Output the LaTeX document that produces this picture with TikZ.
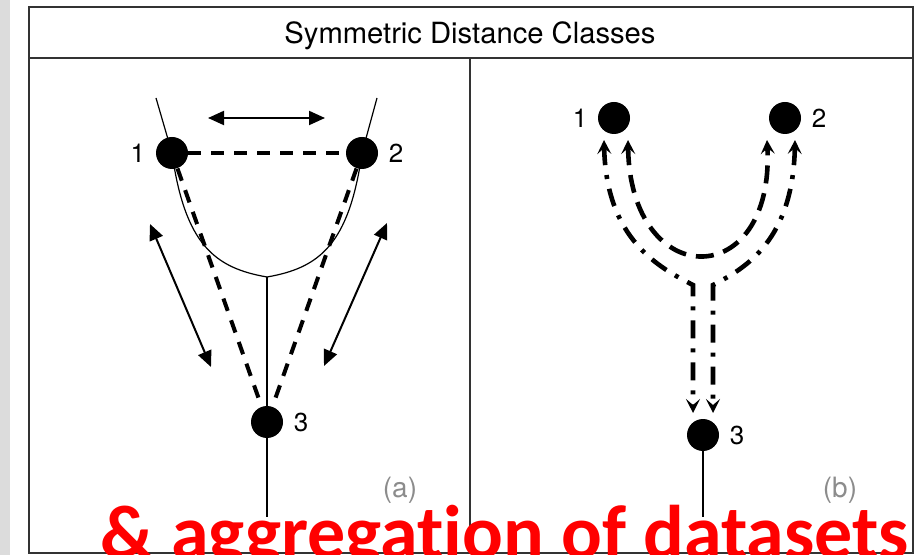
\documentclass[tikz,border=0pt]{standalone}
\usepackage{fontspec}
\setmainfont{TeX Gyre Heros}
\newfontfamily\rotulo[Ligatures=NoCommon]{Carlito}
\usepackage{xcolor}
\usepackage{tikz}
\usetikzlibrary{positioning,arrows.meta,calc}
\definecolor{borde}{HTML}{333333}
\definecolor{gris}{HTML}{8C8C8C}
\definecolor{fondo}{HTML}{DCDCDC}
\definecolor{rojo}{HTML}{FF0000}

\begin{document}
\begin{tikzpicture}[x=0.5pt, y=-0.5pt, font=\fontsize{13}{15}\selectfont, node distance=5pt,
  punto/.style={circle, fill=black, minimum size=16pt, inner sep=0pt},
  num/.style={inner sep=0pt},
  fino/.style={line width=0.6pt},
  flecha/.style={line width=1pt, {Triangle[length=8pt,width=7pt]}-{Triangle[length=8pt,width=7pt]}},
  rayas/.style={line width=2pt, dash pattern=on 6.5pt off 5pt},
  punta/.style={{Stealth[length=7pt,width=7pt,inset=3pt]}-{Stealth[length=7pt,width=7pt,inset=3pt]}},
  rayas2/.style={punta, line width=2.3pt, dash pattern=on 9pt off 5pt},
  rayapunto/.style={punta, line width=2.3pt, dash pattern=on 9pt off 5pt on 2pt off 5pt}]
  \useasboundingbox (0,0) rectangle (915,555);
  \fill[fondo] (0,0) rectangle (10,555);
  % marco
  \draw[borde, line width=1pt] (29,7) rectangle (913,553);
  \draw[borde, line width=1pt] (29,58) -- (913,58);
  \draw[borde, line width=1pt] (470,58) -- (470,553);
  \node (titulo) at (470,36) {\fontsize{14.6}{16}\selectfont Symmetric Distance Classes};

  % (a)
  \node[punto] (a1) at (172,153) {};
  \node[punto] (a2) at (362,153) {};
  \node[punto] (a3) at (267,422) {};
  \node[num, left=of a1]  (n1a) {1};
  \node[num, right=of a2] (n2a) {2};
  \node[num, right=of a3] (n3a) {3};
  \coordinate (aj) at (267,277);
  \coordinate (a1s) at (156,98);
  \coordinate (a2s) at (377,98);
  \coordinate (a3s) at (267,517);
  \draw[fino] (a1s) -- (a1.center) .. controls (185,245) and (215,268) .. (aj);
  \draw[fino] (a2s) -- (a2.center) .. controls (349,245) and (319,268) .. (aj);
  \draw[fino] (aj) -- (a3.center) -- (a3s);
  \draw[rayas] (a1) -- (a2);
  \draw[rayas] (a1) -- (a3);
  \draw[rayas] (a2) -- (a3);
  \coordinate (h1) at (208,118);
  \coordinate (h2) at (325,118);
  \coordinate (i1) at (150,224);
  \coordinate (i2) at (211,367);
  \coordinate (d1) at (387,223);
  \coordinate (d2) at (324,366);
  \draw[flecha] (h1) -- (h2);
  \draw[flecha] (i1) -- (i2);
  \draw[flecha] (d1) -- (d2);
  \node[gris, font=\fontsize{14}{16}\selectfont] (tla) at (400,490) {(a)};

  % (b)
  \node[punto] (b1) at (614,118) {};
  \node[punto] (b2) at (785,118) {};
  \node[punto] (b3) at (703,435) {};
  \node[num, left=of b1]  (n1b) {1};
  \node[num, right=of b2] (n2b) {2};
  \node[num, right=of b3] (n3b) {3};
  \coordinate (b3s) at (703,517);
  \draw[fino] (b3.center) -- (b3s);
  \draw[rayapunto] ($(b1)+(-10,22)$) .. controls (606,240) and (660,268) .. (693,285) -- ($(b3)+(-10,-22)$);
  \draw[rayapunto] ($(b2)+(10,22)$) .. controls (793,240) and (746,268) .. (713,285) -- ($(b3)+(10,-22)$);
  \draw[rayas2] ($(b1)+(14,22)$) .. controls (630,293) and (775,293) .. ($(b2)+(-18,22)$);
  \node[gris, font=\fontsize{14}{16}\selectfont] (tlb) at (840,490) {(b)};

  \node[anchor=base west, text=rojo, inner sep=0pt, font=\rotulo\bfseries\fontsize{38}{42}\selectfont] (lema) at (100,558) {\& aggregation of datasets};
\end{tikzpicture}
\end{document}
